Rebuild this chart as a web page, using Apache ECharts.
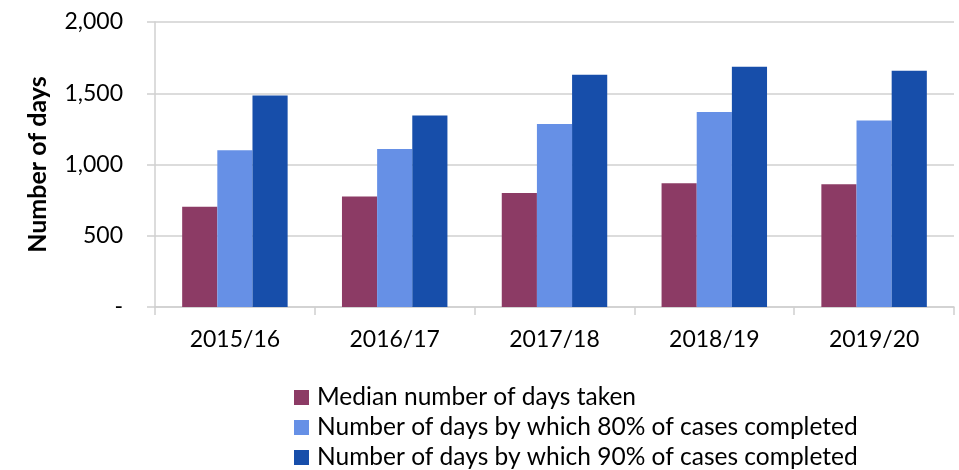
<!DOCTYPE html>
<html>
<head>
<meta charset="utf-8">
<script src="https://cdn.jsdelivr.net/npm/echarts@6/dist/echarts.min.js"></script>
<style>
html, body { margin: 0; padding: 0; background: #fff; }
#main { width: 959px; height: 470px; }
</style>
</head>
<body>
<div id="main"></div>
<script>
var years = ["2015/16", "2016/17", "2017/18", "2018/19", "2019/20"];
var medianDays = [703, 776, 800, 868, 861];
var days80 = [1100, 1109, 1285, 1369, 1308];
var days90 = [1484, 1343, 1629, 1686, 1658];
var seriesNames = [
	"Median number of days taken",
	"Number of days by which 80% of cases completed",
	"Number of days by which 90% of cases completed"
];
var colors = ["#8C3B65", "#6690E6", "#174EAA"];

var fontName = "Lato";

function formatTick(v) {
	if (v == 0) {
		return "-";
	}
	return v.toLocaleString("en-US");
}

function makeSeries(name, data, color) {
	return {
		name : name,
		type : "bar",
		data : data,
		barGap : "0%",
		barCategoryGap : "34%",
		itemStyle : { color : color },
		silent : true
	};
}

var option = {
	animation : false,
	textStyle : { fontFamily : fontName },
	grid : { left : 155, right : 5, top : 22, bottom : 163 },
	legend : {
		orient : "vertical",
		left : 294,
		top : 385,
		height : 100,
		padding : 0,
		itemWidth : 15,
		itemHeight : 15,
		itemGap : 5,
		icon : "rect",
		textStyle : { fontFamily : fontName, fontSize : 24.5, color : "#000", padding : [0, 0, 0, 3] },
		data : seriesNames
	},
	xAxis : {
		type : "category",
		data : years,
		axisLine : { lineStyle : { color : "#d0d0d0", width : 1.5 } },
		axisTick : { show : true, length : 8, lineStyle : { color : "#d0d0d0", width : 1.5 } },
		axisLabel : { color : "#000", fontSize : 23, margin : 21, fontFamily : fontName }
	},
	yAxis : {
		type : "value",
		min : 0,
		max : 2000,
		interval : 500,
		name : "Number of days",
		nameLocation : "middle",
		nameGap : 105,
		nameTextStyle : { fontWeight : "bold", fontSize : 25, color : "#000", fontFamily : fontName },
		axisLine : { show : true, lineStyle : { color : "#d0d0d0", width : 1.5 } },
		axisTick : { show : true, length : 8, lineStyle : { color : "#d0d0d0", width : 1.5 } },
		splitLine : { lineStyle : { color : "#d0d0d0", width : 1.5 } },
		axisLabel : { color : "#000", fontSize : 23, margin : 32, formatter : formatTick, fontFamily : fontName }
	},
	series : [
		makeSeries(seriesNames[0], medianDays, colors[0]),
		makeSeries(seriesNames[1], days80, colors[1]),
		makeSeries(seriesNames[2], days90, colors[2])
	]
};

var myChart = echarts.init(document.getElementById("main"));
myChart.setOption(option);
</script>
</body>
</html>
